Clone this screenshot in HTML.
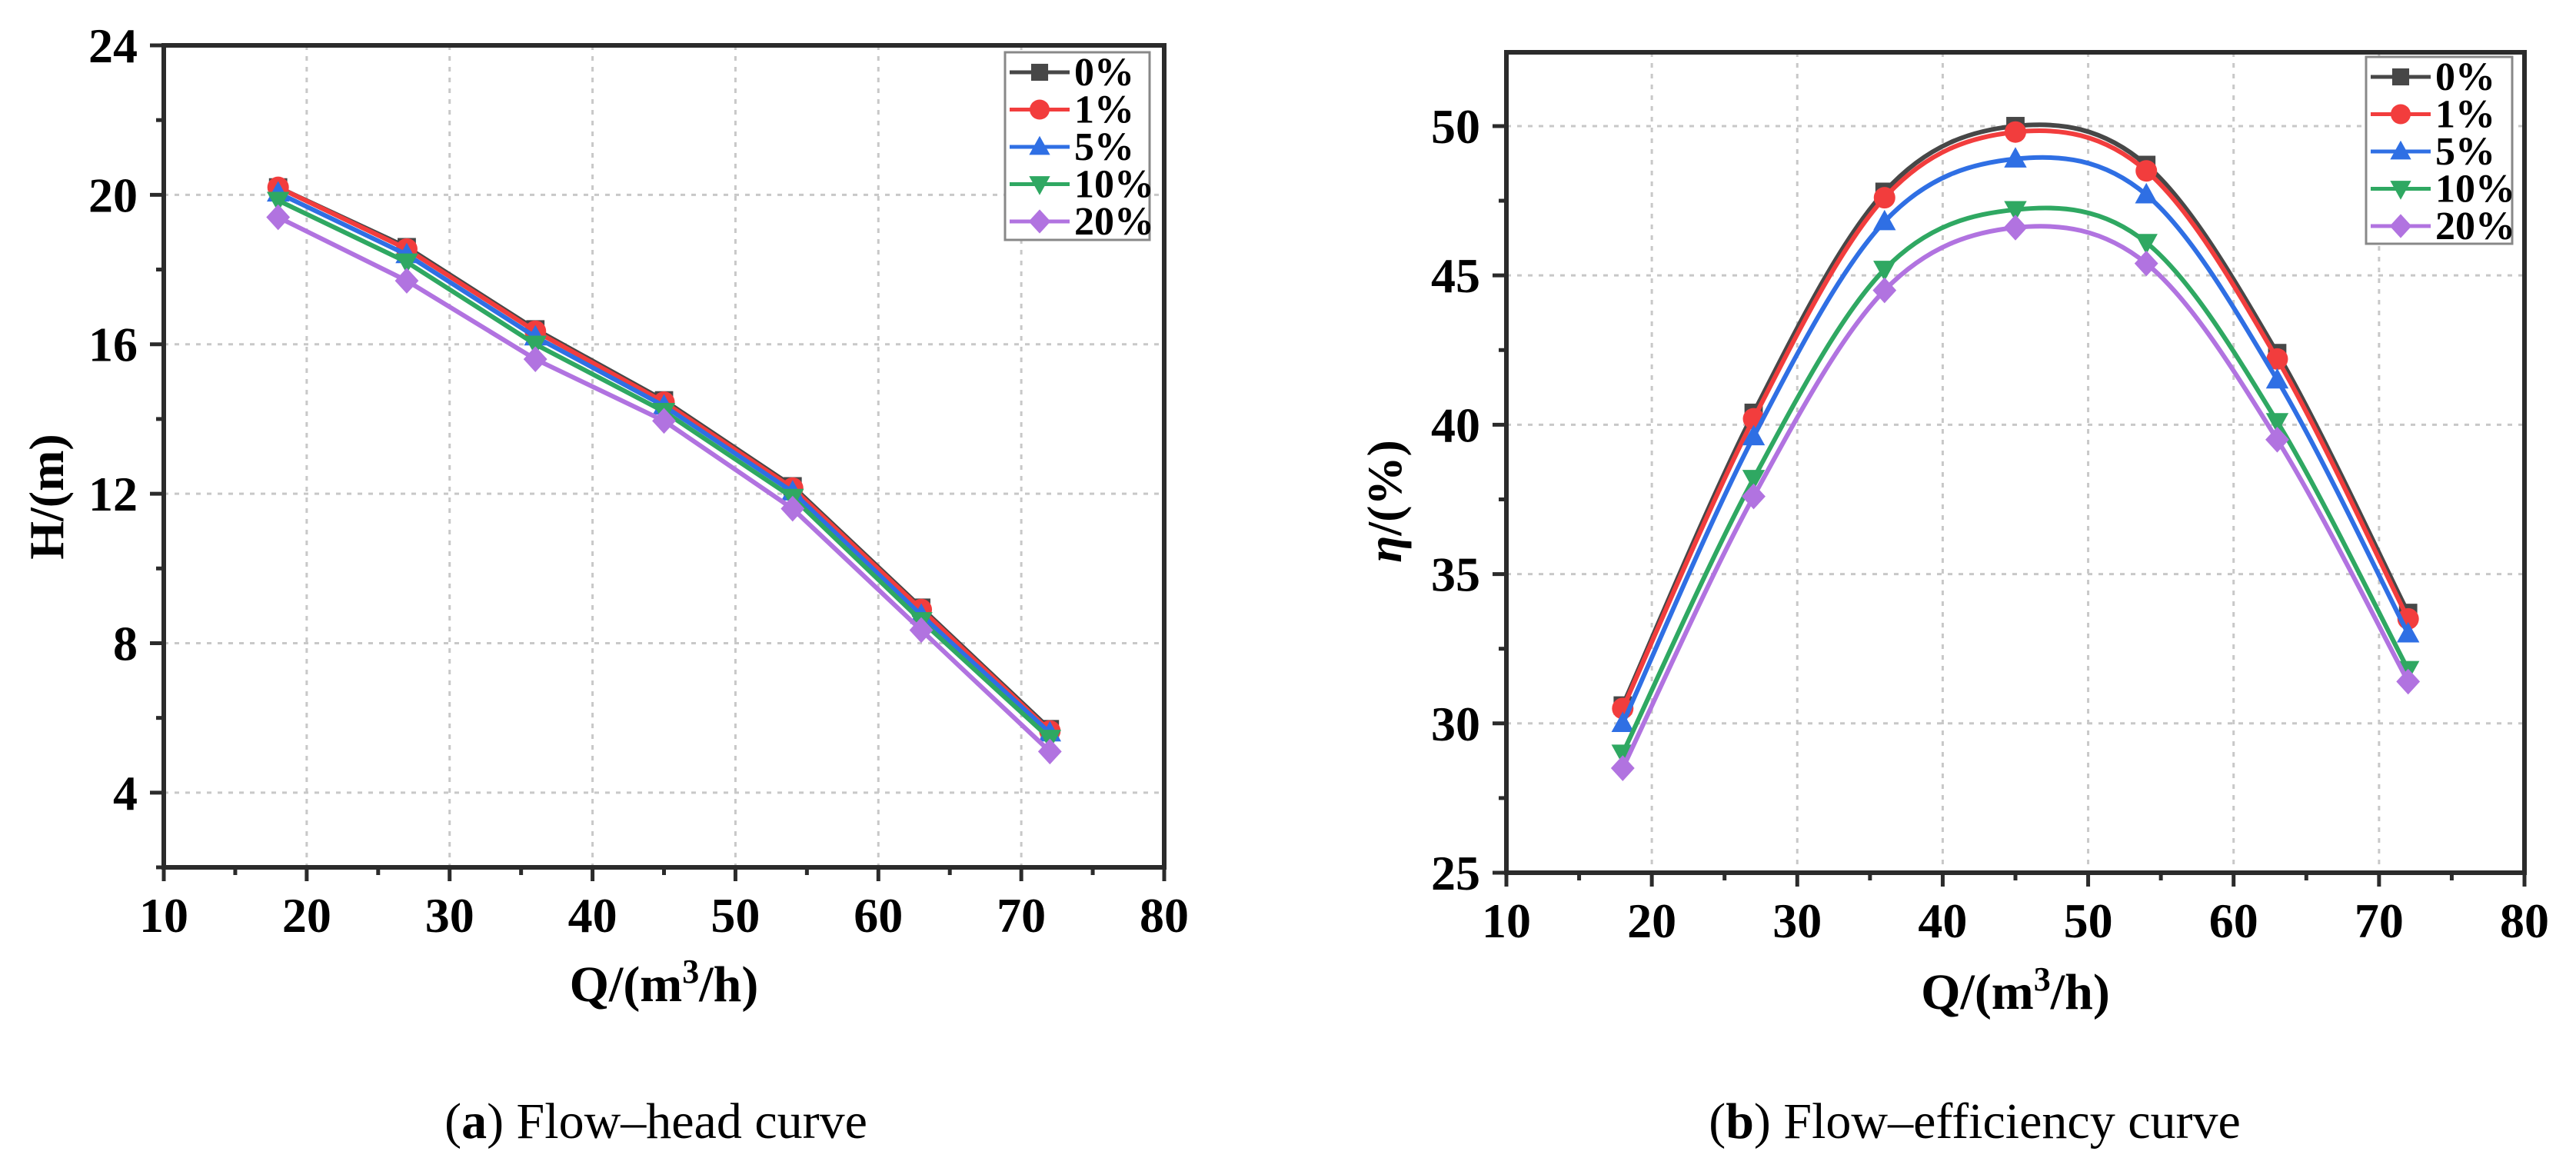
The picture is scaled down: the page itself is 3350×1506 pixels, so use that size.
<!DOCTYPE html>
<html><head><meta charset="utf-8">
<style>
html,body{margin:0;padding:0;background:#fff;}
svg{display:block;font-family:"Liberation Serif",serif;}
</style></head>
<body>
<svg id="fig" width="3350" height="1506" viewBox="0 0 3350 1506" xmlns="http://www.w3.org/2000/svg">
<text x="853" y="1480" font-size="66" text-anchor="middle">(<tspan font-weight="bold">a</tspan>) Flow–head curve</text>
<text x="2568" y="1480" font-size="66" text-anchor="middle">(<tspan font-weight="bold">b</tspan>) Flow–efficiency curve</text>
</svg>
<script>
const flowQ = [18, 27, 36, 45, 54, 63, 72];
const seriesNames = ['0%', '1%', '5%', '10%', '20%'];
const head0 = [20.2, 18.6, 16.4, 14.5, 12.2, 8.95, 5.7];
const head1 = [20.2, 18.55, 16.35, 14.45, 12.15, 8.9, 5.65];
const head5 = [20.05, 18.4, 16.2, 14.35, 12.05, 8.75, 5.6];
const head10 = [19.85, 18.2, 16.0, 14.2, 11.9, 8.6, 5.45];
const head20 = [19.4, 17.7, 15.6, 13.95, 11.6, 8.35, 5.1];
const eff0 = [30.6, 40.4, 47.8, 50.0, 48.7, 42.4, 33.7];
const eff1 = [30.5, 40.2, 47.6, 49.8, 48.5, 42.2, 33.5];
const eff5 = [30.0, 39.6, 46.8, 48.9, 47.7, 41.5, 33.0];
const eff10 = [29.0, 38.2, 45.2, 47.2, 46.1, 40.1, 31.8];
const eff20 = [28.5, 37.6, 44.5, 46.6, 45.4, 39.5, 31.4];
const xTicks = [10, 20, 30, 40, 50, 60, 70, 80];
const headTicks = [4, 8, 12, 16, 20, 24];
const effTicks = [25, 30, 35, 40, 45, 50];

const colors = ['#474747', '#f23d3d', '#2f6fe4', '#2fa862', '#b173e0'];
const shapes = ['square', 'circle', 'up', 'down', 'diamond'];
const NS = 'http://www.w3.org/2000/svg';
const svg = document.getElementById('fig');
function mk(tag, attrs, parent) {
  const e = document.createElementNS(NS, tag);
  for (const k in attrs) e.setAttribute(k, attrs[k]);
  (parent || svg).appendChild(e);
  return e;
}
function marker(g, shape, cx, cy, color, s) {
  let m;
  if (shape === 'square') m = mk('rect', {x: cx - s*0.85, y: cy - s*0.85, width: s*1.7, height: s*1.7, fill: color}, g);
  else if (shape === 'circle') m = mk('circle', {cx: cx, cy: cy, r: s, fill: color}, g);
  else if (shape === 'up') m = mk('polygon', {points: `${cx},${cy-s*1.1} ${cx+s*1.05},${cy+s*0.8} ${cx-s*1.05},${cy+s*0.8}`, fill: color}, g);
  else if (shape === 'down') m = mk('polygon', {points: `${cx},${cy+s*1.1} ${cx+s*1.05},${cy-s*0.8} ${cx-s*1.05},${cy-s*0.8}`, fill: color}, g);
  else m = mk('polygon', {points: `${cx},${cy-s*1.2} ${cx+s*1.1},${cy} ${cx},${cy+s*1.2} ${cx-s*1.1},${cy}`, fill: color}, g);
  return m;
}
function spline(pts) {
  let d = `M${pts[0][0]},${pts[0][1]}`;
  for (let i = 0; i < pts.length - 1; i++) {
    const p0 = pts[Math.max(i-1,0)], p1 = pts[i], p2 = pts[i+1], p3 = pts[Math.min(i+2, pts.length-1)];
    const c1x = p1[0] + (p2[0]-p0[0])/6, c1y = p1[1] + (p2[1]-p0[1])/6;
    const c2x = p2[0] - (p3[0]-p1[0])/6, c2y = p2[1] - (p3[1]-p1[1])/6;
    d += ` C${c1x},${c1y} ${c2x},${c2y} ${p2[0]},${p2[1]}`;
  }
  return d;
}
function chart(cfg) {
  const {name, L, R, T, B, xmin, xmax, ymin, ymax, yTicks, data, smooth, yTitle, yTitleX, yTitleY, xTitleY, legend} = cfg;
  const sx = v => L + (v - xmin) / (xmax - xmin) * (R - L);
  const sy = v => B - (v - ymin) / (ymax - ymin) * (B - T);
  const g = mk('g', {});
  
  
  xTicks.forEach(t => { if (t > xmin && t < xmax) {
    const l = mk('line', {x1: sx(t), x2: sx(t), y1: T, y2: B, stroke: '#c8c8c8', 'stroke-width': 3, 'stroke-dasharray': '6 8'}, g);
      }});
  yTicks.forEach(t => { if (t > ymin && t < ymax) {
    const l = mk('line', {x1: L, x2: R, y1: sy(t), y2: sy(t), stroke: '#c8c8c8', 'stroke-width': 3, 'stroke-dasharray': '6 8'}, g);
      }});
  data.forEach((vals, si) => {
    const sg = mk('g', {}, g);
    
    
    const pts = flowQ.map((q, i) => [sx(q), sy(vals[i])]);
    const d = smooth ? spline(pts) : 'M' + pts.map(p => p.join(',')).join(' L');
    const p = mk('path', {d: d, fill: 'none', stroke: colors[si], 'stroke-width': 6}, sg);
    
    
    pts.forEach(pt => {
      const m = marker(sg, shapes[si], pt[0], pt[1], colors[si], 14);
      
      
    });
  });
  const fr = mk('rect', {x: L, y: T, width: R - L, height: B - T, fill: 'none', stroke: '#2b2b2b', 'stroke-width': 6}, g);
  
  
  for (let v = xmin; v <= xmax; v += 5) {
    const major = v % 10 === 0;
    mk('line', {x1: sx(v), x2: sx(v), y1: B, y2: B + (major ? 18 : 10), stroke: '#2b2b2b', 'stroke-width': 5}, g);
  }
  xTicks.forEach(t => {
    const tx = mk('text', {x: sx(t), y: B + 84, 'font-size': 64, 'font-weight': 'bold', 'text-anchor': 'middle'}, g);
    tx.textContent = t;
    
    
  });
  const yStep = yTicks[1] - yTicks[0];
  for (let v = yTicks[0] - yStep/2; v <= ymax + 0.01; v += yStep/2) {
    if (v < ymin - 0.01) continue;
    const major = yTicks.some(t => Math.abs(t - v) < 0.01);
    mk('line', {x1: L, x2: L - (major ? 18 : 10), y1: sy(v), y2: sy(v), stroke: '#2b2b2b', 'stroke-width': 5}, g);
  }
  yTicks.forEach(t => {
    const tx = mk('text', {x: L - 34, y: sy(t) + 22, 'font-size': 64, 'font-weight': 'bold', 'text-anchor': 'end'}, g);
    tx.textContent = t;
    
    
  });
  const xt = mk('text', {x: (L + R) / 2, y: xTitleY, 'font-size': 66, 'font-weight': 'bold', 'text-anchor': 'middle'}, g);
  xt.innerHTML = 'Q/(m<tspan font-size="44" dy="-24">3</tspan><tspan dy="24">/h)</tspan>';
  
  
  const yt = mk('text', {x: yTitleX, y: yTitleY, 'font-size': 64, 'font-weight': 'bold', 'text-anchor': 'middle', transform: `rotate(-90 ${yTitleX} ${yTitleY})`}, g);
  yt.innerHTML = yTitle;
  
  
  const lg = mk('g', {}, g);
  
  
  mk('rect', {x: legend.x, y: legend.y, width: legend.w, height: legend.h, fill: '#fff', stroke: '#888', 'stroke-width': 3}, lg);
  seriesNames.forEach((n, i) => {
    const e = mk('g', {}, lg);
    
    
    const cy = legend.y + 26 + i * 48.5;
    mk('line', {x1: legend.x + 6, x2: legend.x + 84, y1: cy, y2: cy, stroke: colors[i], 'stroke-width': 5}, e);
    marker(e, shapes[i], legend.x + 45, cy, colors[i], 13);
    const t = mk('text', {x: legend.x + 90, y: cy + 17, 'font-size': 52, 'font-weight': 'bold'}, e);
    t.textContent = n;
  });
}
chart({name: 'head-chart', L: 213, R: 1514, T: 59, B: 1128, xmin: 10, xmax: 80, ymin: 2, ymax: 24,
  yTicks: headTicks, data: [head0, head1, head5, head10, head20], smooth: false,
  yTitle: 'H/(m)', yTitleX: 82, yTitleY: 646, xTitleY: 1302,
  legend: {x: 1307, y: 68, w: 188, h: 244}});
chart({name: 'efficiency-chart', L: 1959, R: 3283, T: 68, B: 1135, xmin: 10, xmax: 80, ymin: 25, ymax: 52.47,
  yTicks: effTicks, data: [eff0, eff1, eff5, eff10, eff20], smooth: true,
  yTitle: '<tspan font-style="italic">η</tspan>/(%)', yTitleX: 1822, yTitleY: 652, xTitleY: 1312,
  legend: {x: 3077, y: 74, w: 190, h: 243}});
</script>
</body></html>
